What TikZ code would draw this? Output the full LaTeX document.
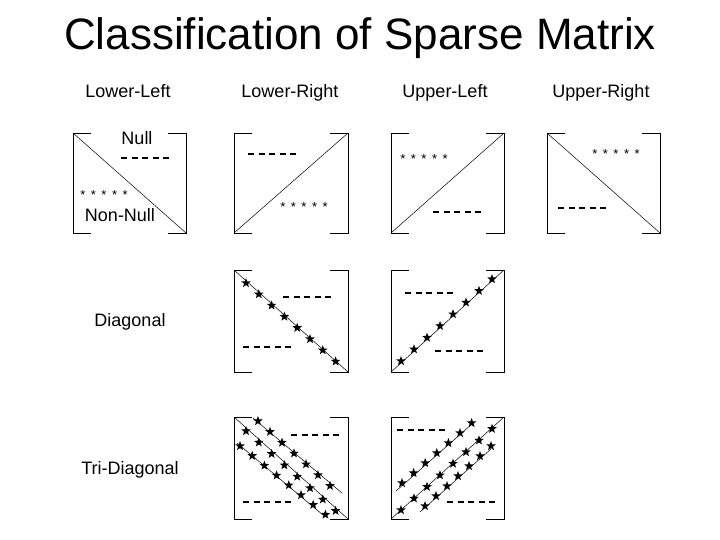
\documentclass[tikz,border=0pt]{standalone}
\usepackage{fontspec}
\setmainfont{Liberation Sans}
\usetikzlibrary{shapes.geometric}
\begin{document}
\begin{tikzpicture}[x=1pt,y=-1pt,
  lbl/.style={font=\fontsize{18}{20}\selectfont,inner sep=0,text height=13pt,text depth=4pt},
  sm/.style={font=\fontsize{13}{13}\selectfont,inner sep=0,anchor=north},
  dsh/.style={line width=1.6pt,dash pattern=on 6pt off 4.5pt},
  st/.style={star,star points=5,star point ratio=2.4,fill=black,inner sep=0,minimum size=10pt},
  brk/.style={line width=0.8pt},
  ln/.style={line width=0.5pt}]
\useasboundingbox (0,0) rectangle (720,540);
\fill[white] (0,0) rectangle (720,540);
\newcommand{\fs}{*\hspace{5.5pt}*\hspace{5.5pt}*\hspace{5.5pt}*\hspace{5.5pt}*}
\node[font=\fontsize{44}{48}\selectfont] (title) at (360,38) {Classification of Sparse Matrix};
\node[lbl] (c1) at (128,93) {Lower-Left};
\node[lbl] (c2) at (290,93) {Lower-Right};
\node[lbl] (c3) at (445,93) {Upper-Left};
\node[lbl] (c4) at (601,93) {Upper-Right};
\node[lbl] (d) at (130,322) {Diagonal};
\node[lbl] (t) at (130,470) {Tri-Diagonal};
\newcommand{\mybr}[4]{%
 \draw[brk] (#1+18,#2) -- (#1,#2) -- (#1,#4) -- (#1+18,#4);
 \draw[brk] (#3-18,#2) -- (#3,#2) -- (#3,#4) -- (#3-18,#4);}
% row 1
\mybr{73}{133}{186}{233}
\draw[ln] (73,133) -- (186,233);
\node[lbl] (n1) at (137,140) {Null};
\draw[dsh] (121,158) -- (171,158);
\node[sm] (s1) at (104,190) {\fs};
\node[lbl] (n2) at (120,217) {Non-Null};
\mybr{234}{133}{348}{233}
\draw[ln] (234,233) -- (348,133);
\draw[dsh] (248,154) -- (298,154);
\node[sm] (s2) at (304,202) {\fs};
\mybr{391}{133}{504}{233}
\draw[ln] (391,233) -- (504,133);
\node[sm] (s3) at (424,154) {\fs};
\draw[dsh] (433,212) -- (483,212);
\mybr{547}{133}{660}{233}
\draw[ln] (547,133) -- (660,233);
\node[sm] (s4) at (616,149) {\fs};
\draw[dsh] (558,208) -- (608,208);
% row 2
\mybr{234}{270}{348}{372}
\draw[ln] (234,270) -- (348,372);
\foreach \i in {0,...,7} \node[st] at ({246+\i*12.8},{283+\i*11.2}) {};
\draw[dsh] (283,297) -- (333,297);
\draw[dsh] (243,347) -- (293,347);
\mybr{391}{270}{504}{372}
\draw[ln] (391,372) -- (504,270);
\foreach \i in {0,...,7} \node[st] at ({401+\i*13},{361-\i*11.7}) {};
\draw[dsh] (405,293) -- (455,293);
\draw[dsh] (435,351) -- (485,351);
% row 3
\mybr{234}{417}{348}{519}
\draw[ln] (234,417) -- (348,519);
\draw[ln] (253,418) -- (342,493);
\draw[ln] (237,443) -- (323,515);
\foreach \i in {0,...,7} \node[st] at ({246+\i*12.8},{431+\i*11.4}) {};
\foreach \i in {0,...,6} \node[st] at ({258+\i*12},{421+\i*10.8}) {};
\foreach \i in {0,...,7} \node[st] at ({240+\i*12.2},{446+\i*9.8}) {};
\draw[dsh] (291,435) -- (341,435);
\draw[dsh] (243,502) -- (293,502);
\mybr{391}{417}{504}{519}
\draw[ln] (391,519) -- (504,417);
\draw[ln] (396,491) -- (472,424);
\draw[ln] (420,512) -- (491,449);
\foreach \i in {0,...,7} \node[st] at ({401+\i*13},{510-\i*11.6}) {};
\foreach \i in {0,...,6} \node[st] at ({402+\i*11.6},{483-\i*10}) {};
\foreach \i in {0,...,6} \node[st] at ({425+\i*11},{506-\i*10}) {};
\draw[dsh] (397,430) -- (447,430);
\draw[dsh] (447,502) -- (497,502);
\end{tikzpicture}
\end{document}
